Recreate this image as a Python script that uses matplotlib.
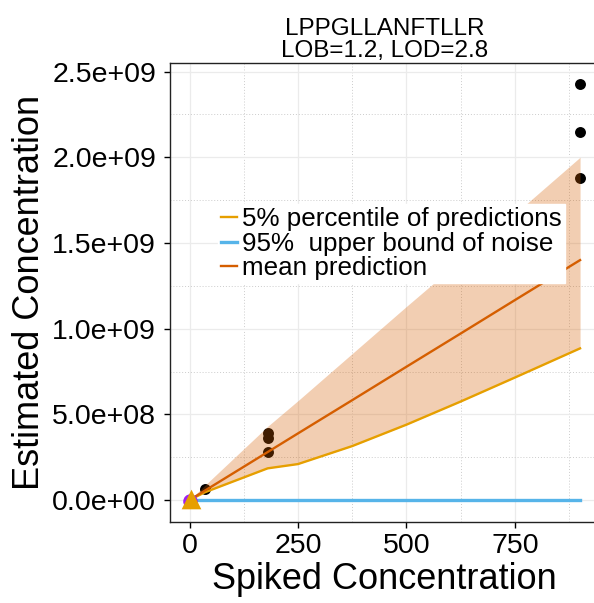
"""Calibration curve for LPPGLLANFTLLR: spiked vs estimated concentration."""

import matplotlib

matplotlib.use("Agg")
import matplotlib.pyplot as plt
from matplotlib.ticker import FixedLocator, FuncFormatter

plt.rcParams["font.family"] = ["Liberation Sans", "DejaVu Sans"]

# observed measurements
spiked = [0, 0, 0, 35, 180, 180, 180, 900, 900, 900]
estimated = [0, 0, 0, 6.5e7, 3.9e8, 3.65e8, 2.82e8, 2.427e9, 2.147e9, 1.88e9]

# prediction curves on a grid of spiked concentrations
grid = [0, 35, 180, 250, 375, 500, 625, 750, 900]
lower_5pct = [0, 4.5e7, 1.85e8, 2.1e8, 3.15e8, 4.4e8, 5.75e8, 7.15e8, 8.85e8]
upper_band = [0, 8.5e7, 4.3e8, 5.8e8, 8.55e8, 1.13e9, 1.4e9, 1.67e9, 2.0e9]
mean_pred = [0, 5.44e7, 2.8e8, 3.89e8, 5.83e8, 7.78e8, 9.72e8, 1.167e9, 1.4e9]
noise_x = [0, 900]
noise_upper = [2.8, 2.8]

title = "LPPGLLANFTLLR\nLOB=1.2, LOD=2.8"

W, H = 594, 603
fig = plt.figure(figsize=(W / 100, H / 100), dpi=100)
left, right, top, bottom = 170, 599.6, 63, 522
ax = fig.add_axes([left / W, 1 - bottom / H, (right - left) / W, (bottom - top) / H])

ax.set_xlim(-45, 945)
ax.set_ylim(-1.28e8, 2.55e9)

ax.scatter(spiked, estimated, s=62, color="black", zorder=2, linewidths=0)
ax.fill_between(grid, lower_5pct, upper_band, color="#D55E00", alpha=0.3, linewidth=0, zorder=3)
ax.plot(grid, lower_5pct, color="#E69F00", lw=1.7, zorder=4, label="5% percentile of predictions")
ax.plot(noise_x, noise_upper, color="#56B4E9", lw=2.4, zorder=4, label="95%  upper bound of noise")
ax.plot(grid, mean_pred, color="#D55E00", lw=1.7, zorder=4, label="mean prediction")
ax.scatter([0], [-5e6], s=110, color="#A020F0", zorder=5, linewidths=0)
ax.scatter([3], [5e6], s=200, marker="^", color="#E69F00", zorder=6, linewidths=0)

ax.xaxis.set_major_locator(FixedLocator([0, 250, 500, 750]))
ax.xaxis.set_minor_locator(FixedLocator([125, 375, 625, 875]))
ax.yaxis.set_major_locator(FixedLocator([0, 5e8, 1e9, 1.5e9, 2e9, 2.5e9]))
ax.yaxis.set_minor_locator(FixedLocator([2.5e8, 7.5e8, 1.25e9, 1.75e9, 2.25e9]))
ax.yaxis.set_major_formatter(FuncFormatter(lambda v, _: f"{v:.1e}"))

ax.grid(which="major", color="#EBEBEB", lw=0.9, zorder=0)
ax.grid(which="minor", color="#CCCCCC", lw=0.7, ls=(0, (1, 2)), zorder=0)
ax.set_axisbelow(True)

ax.tick_params(which="major", length=4, width=1, color="black", labelsize=20.5, pad=4)
ax.tick_params(axis="y", which="major", pad=6)
ax.tick_params(which="minor", length=0)
for side in ("left", "bottom", "top"):
    ax.spines[side].set_color("#222222")
    ax.spines[side].set_linewidth(1)
ax.spines["right"].set_visible(False)

ax.set_xlabel("Spiked Concentration", fontsize=26, labelpad=2)
ax.set_ylabel("Estimated Concentration", fontsize=26, labelpad=4)
ax.set_title(title, fontsize=17.5, linespacing=1.0, pad=4)

leg = ax.legend(
    loc="upper right",
    bbox_to_anchor=(565 / W, 1 - 204 / H),
    bbox_transform=fig.transFigure,
    fontsize=18.7,
    frameon=True,
    fancybox=False,
    framealpha=1,
    edgecolor="white",
    handlelength=0.6,
    handletextpad=0.2,
    labelspacing=0.02,
    borderpad=0.12,
    borderaxespad=0,
)
leg.set_zorder(7)

fig.savefig("out.png", dpi=100)
